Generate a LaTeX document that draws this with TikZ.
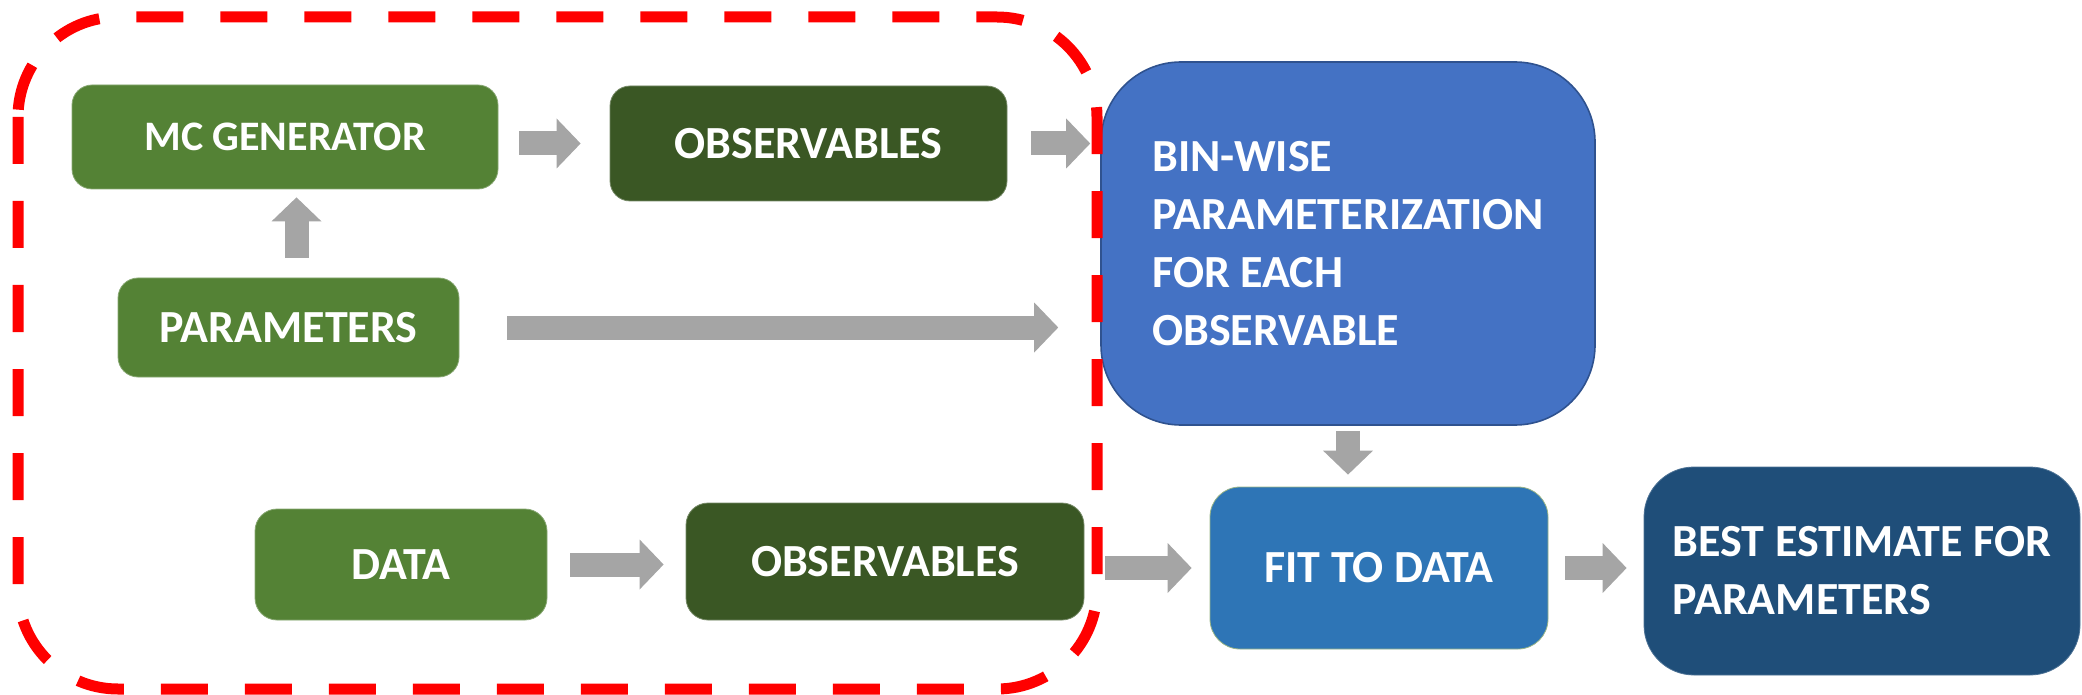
\documentclass[tikz,border=0pt]{standalone}
\usepackage{fontspec}
\setmainfont{Carlito}
\usetikzlibrary{arrows.meta, calc}

\definecolor{lightgreen}{HTML}{548235}
\definecolor{darkgreen}{HTML}{3A5724}
\definecolor{binblue}{HTML}{4472C4}
\definecolor{binedge}{HTML}{2F528F}
\definecolor{fitblue}{HTML}{2E75B6}
\definecolor{bestblue}{HTML}{1F4E79}
\definecolor{arrowgray}{HTML}{A5A5A5}
\definecolor{dashred}{HTML}{FF0000}

\begin{document}
\begin{tikzpicture}[x=0.5pt, y=-0.5pt,
	box/.style={rounded corners=10pt, text=white, inner sep=0pt, align=left,
		font=\fontsize{23}{29}\selectfont\bfseries},
	blockarrow/.style={draw=arrowgray, line width=12pt,
		-{Triangle[length=12pt, width=25pt, line width=0pt]}}
	]
	\useasboundingbox (0,0) rectangle (2082,695);
	
	% simulation side
	\node [box, fill=lightgreen, draw=lightgreen!70!white, minimum width=213pt, minimum height=52pt,
		font=\fontsize{21}{26}\selectfont\bfseries] (mcgen) at (285,137) {MC GENERATOR};
	\node [box, fill=darkgreen, draw=darkgreen!70!white, minimum width=198.5pt, minimum height=57.5pt] (obsmc) at (808.5,143.5) {OBSERVABLES};
	\node [box, fill=lightgreen, draw=lightgreen!70!white, minimum width=170.5pt, minimum height=49.5pt] (params) at (288.5,327.5) {PARAMETERS};
	
	% data side
	\node [box, fill=lightgreen, draw=lightgreen!70!white, rounded corners=11pt, minimum width=146pt, minimum height=55.5pt] (data) at (401,564.5) {DATA};
	\node [box, fill=darkgreen, draw=darkgreen!70!white, rounded corners=11pt, minimum width=199pt, minimum height=58.5pt] (obsdata) at (885,561.5) {OBSERVABLES};
	
	% parameterization and fit
	\node [box, fill=binblue, draw=binedge, line width=0.8pt, rounded corners=40pt, minimum width=247pt, minimum height=181.5pt] (binwise) at (1348,243.5)
		{BIN-WISE\\PARAMETERIZATION\\FOR EACH\\OBSERVABLE};
	\node [box, fill=fitblue, draw=lightgreen!60!white, rounded corners=15pt, minimum width=169pt, minimum height=81pt] (fit) at (1379,568) {FIT TO DATA};
	\node [box, fill=bestblue, draw=bestblue!80!white, rounded corners=25pt, minimum width=218pt, minimum height=104pt] (best) at (1862,571)
		{BEST ESTIMATE FOR\\PARAMETERS};
	
	% arrows
	\coordinate (parup) at ([xshift=4pt]params.north);
	\draw [blockarrow, shorten <=10pt, shorten >=4pt] (parup) -- (parup |- mcgen.south);
	\draw [blockarrow, shorten <=10.5pt, shorten >=14.5pt] (mcgen.east |- obsmc) -- (obsmc.west);
	\draw [blockarrow, shorten <=12pt, shorten >=5pt] (obsmc.east) -- (obsmc.east -| binwise.west);
	\draw [blockarrow, shorten <=24pt, shorten >=21pt] (params.east) -- (params.east -| binwise.west);
	\draw [blockarrow, shorten <=11.5pt, shorten >=11pt] (data.east) -- (obsdata.west |- data.east);
	\draw [blockarrow, shorten <=10.5pt, shorten >=9pt] (obsdata.east |- fit) -- (fit.west);
	\draw [blockarrow, shorten <=2.5pt, shorten >=6pt] (binwise.south) -- (binwise.south |- fit.north);
	\draw [blockarrow, shorten <=8.5pt, shorten >=8.5pt] (fit.east) -- (fit.east -| best.west);
	
	% dashed region round the generation step
	\draw [dashred, line width=5.5pt, dash pattern=on 23.5pt off 18.5pt, rounded corners=50pt] (18,17) rectangle (1097,689);
\end{tikzpicture}
\end{document}
